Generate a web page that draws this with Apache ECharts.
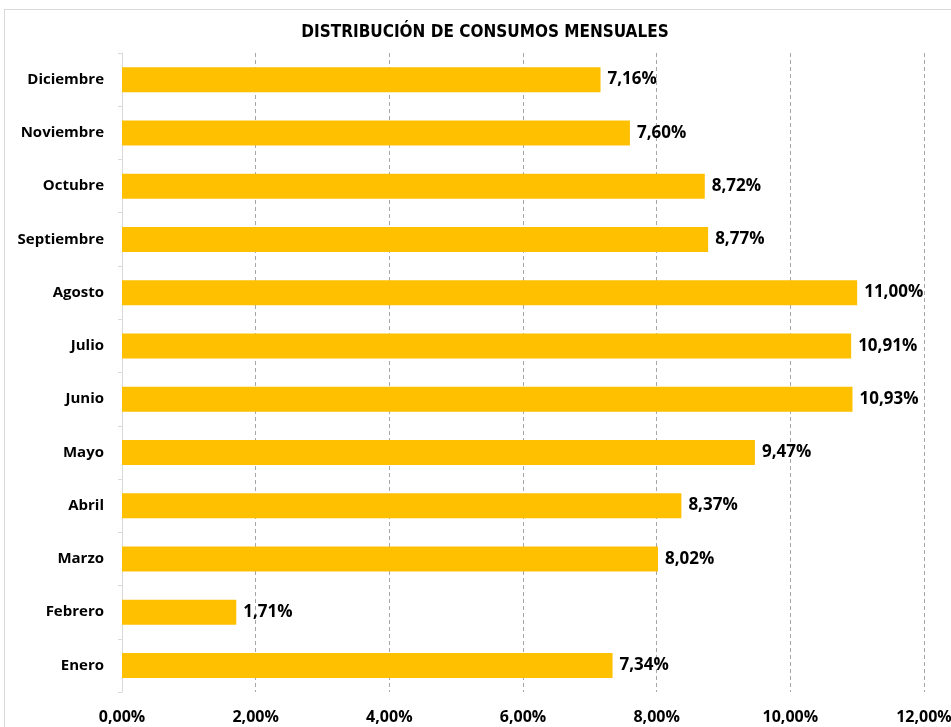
<!DOCTYPE html>
<html>
<head>
<meta charset="utf-8">
<script src="https://cdn.jsdelivr.net/npm/echarts@6/dist/echarts.min.js"></script>
<style>
  html, body { margin: 0; padding: 0; background: #fff; }
  #frame { position: absolute; left: 4px; top: 9px; width: 960px; height: 730px; border: 1px solid #d9d9d9; box-sizing: border-box; }
  #chart { position: absolute; left: 0; top: 0; width: 951px; height: 727px; }
</style>
</head>
<body>
<div id="frame"></div>
<div id="chart"></div>
<script>
// Monthly share of consumption (percent)
const months = ['Enero', 'Febrero', 'Marzo', 'Abril', 'Mayo', 'Junio', 'Julio', 'Agosto', 'Septiembre', 'Octubre', 'Noviembre', 'Diciembre'];
const shares = [7.34, 1.71, 8.02, 8.37, 9.47, 10.93, 10.91, 11.00, 8.77, 8.72, 7.60, 7.16];
const xTicks = [0, 2, 4, 6, 8, 10, 12];

const fmt = v => v.toFixed(2).replace('.', ',') + '%';
const labelFont = '"Open Sans", "Liberation Sans", sans-serif';

const chart = echarts.init(document.getElementById('chart'), null, { renderer: 'canvas' });
chart.setOption({
  animation: false,
  backgroundColor: 'transparent',
  title: {
    text: 'DISTRIBUCIÓN DE CONSUMOS MENSUALES',
    left: 480, top: 19, textAlign: 'center',
    textStyle: { fontFamily: '"DejaVu Sans Condensed", "Liberation Sans", sans-serif', fontWeight: 'bold', fontSize: 17, color: '#000' }
  },
  grid: { left: 122, right: 27, top: 53, bottom: 35, containLabel: false, outerBoundsMode: 'none' },
  xAxis: {
    type: 'value', min: xTicks[0], max: xTicks[xTicks.length - 1], interval: 2,
    axisLine: { show: false }, axisTick: { show: false },
    axisLabel: { formatter: fmt, color: '#000', fontFamily: labelFont, fontWeight: 'bold', fontSize: 16, margin: 17 },
    splitLine: { show: true, lineStyle: { color: '#a6a6a6', type: [4, 3], width: 1 } }
  },
  yAxis: {
    type: 'category', data: months,
    axisLine: { show: true, lineStyle: { color: '#d9d9d9' } },
    axisTick: { show: true, length: 4, lineStyle: { color: '#d9d9d9' } },
    axisLabel: { color: '#000', fontFamily: labelFont, fontWeight: 'bold', fontSize: 15, margin: 18 }
  },
  series: [{
    type: 'bar', data: shares, barWidth: 25,
    itemStyle: { color: '#FFC000' },
    label: { show: true, position: 'right', distance: 7, formatter: p => fmt(p.value), color: '#000', fontFamily: labelFont, fontWeight: 'bold', fontSize: 17 }
  }]
});
</script>
</body>
</html>
